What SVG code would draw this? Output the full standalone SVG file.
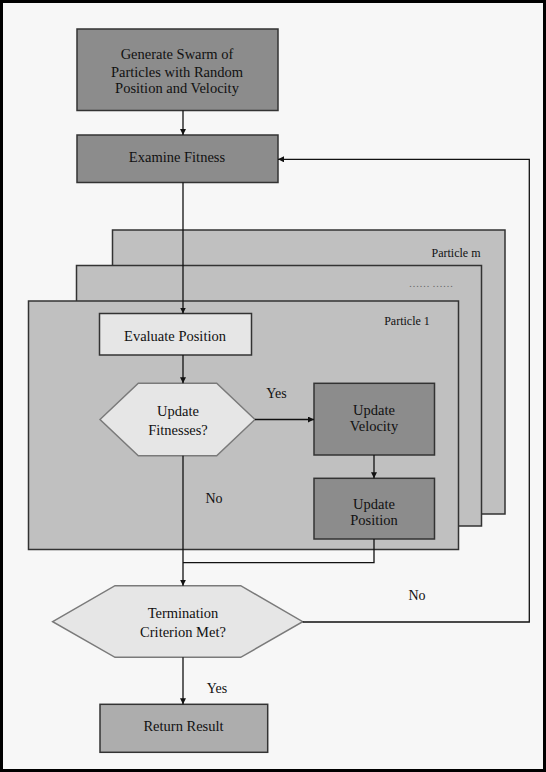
<svg xmlns="http://www.w3.org/2000/svg" width="546" height="772" viewBox="0 0 546 772" font-family="'Liberation Serif', 'Times New Roman', Times, 'DejaVu Serif', serif">
<style>
text{font-family:'Liberation Serif','Times New Roman',Times,'DejaVu Serif',serif;fill:#111;text-anchor:middle}
.t{font-size:14.5px}
.s{font-size:12px}
.lbl{font-size:14px}
.dark{fill:#8c8c8c;stroke:#333;stroke-width:1.5}
.panel{fill:#c0c0c0;stroke:#333;stroke-width:1.5}
.light{fill:#e6e6e6;stroke:#333;stroke-width:1.5}
.hex{fill:#e6e6e6;stroke:#7a7a7a;stroke-width:1.5}
.res{fill:#adadad;stroke:#333;stroke-width:1.5}
.c{fill:none;stroke:#111;stroke-width:1.3}
</style>
<defs>
<marker id="ah" viewBox="0 0 10 10" refX="10" refY="5" markerWidth="6" markerHeight="6" markerUnits="userSpaceOnUse" orient="auto">
<path d="M0,0 L10,5 L0,10 z" fill="#111"/>
</marker>
</defs>
<rect x="0" y="0" width="546" height="772" fill="#f7f7f7"/>
<rect x="1.5" y="1.5" width="543" height="769" fill="none" stroke="#000" stroke-width="3"/>

<g id="particle-m">
<rect class="panel" x="112.5" y="230" width="392.5" height="284"/>
<text class="s" x="456" y="257">Particle m</text>
</g>
<g id="particle-dots">
<rect class="panel" x="76.5" y="265.5" width="405" height="260.5"/>
<text x="431" y="287" style="font-size:10.5px;fill:#666">…… ……</text>
</g>
<g id="particle-1">
<rect class="panel" x="28.5" y="301" width="430" height="248.5"/>
<text class="s" x="407" y="325">Particle 1</text>
</g>

<g id="generate">
<rect class="dark" x="77" y="29" width="201" height="81.5"/>
<text class="t" x="177" y="59">Generate Swarm of</text>
<text class="t" x="177" y="76.5">Particles with Random</text>
<text class="t" x="177" y="92.5">Position and Velocity</text>
</g>
<g id="examine">
<rect class="dark" x="77" y="135" width="201" height="47.5"/>
<text class="t" x="177" y="162">Examine Fitness</text>
</g>
<g id="evaluate">
<rect class="light" x="99.5" y="313.5" width="152" height="41.5"/>
<text class="t" x="175" y="341">Evaluate Position</text>
</g>
<g id="update-fitnesses">
<polygon class="hex" points="100,419.5 138.3,383.3 216.7,383.3 255,419.5 216.7,455.7 138.3,455.7"/>
<text class="t" x="178" y="416">Update</text>
<text class="t" x="178" y="434.5">Fitnesses?</text>
</g>
<g id="update-velocity">
<rect class="dark" x="314" y="383.3" width="120.5" height="71.7"/>
<text class="t" x="374" y="414.5">Update</text>
<text class="t" x="374" y="431">Velocity</text>
</g>
<g id="update-position">
<rect class="dark" x="314" y="478.3" width="120.5" height="60.7"/>
<text class="t" x="374" y="508.5">Update</text>
<text class="t" x="374" y="524.5">Position</text>
</g>
<g id="termination">
<polygon class="hex" points="52.7,621.7 115,585.7 240.7,585.7 302.7,621.7 240.7,657.3 115,657.3"/>
<text class="t" x="183" y="618">Termination</text>
<text class="t" x="183" y="637">Criterion Met?</text>
</g>
<g id="return-result">
<rect class="res" x="100" y="704.3" width="167.7" height="48"/>
<text class="t" x="183.5" y="731">Return Result</text>
</g>

<g id="connectors">
<path class="c" d="M183,110.5 V135" marker-end="url(#ah)"/>
<path class="c" d="M183,182.5 V313.5" marker-end="url(#ah)"/>
<path class="c" d="M183,355 V383.3" marker-end="url(#ah)"/>
<path class="c" d="M255,419.5 H314" marker-end="url(#ah)"/>
<path class="c" d="M374,455 V478.3" marker-end="url(#ah)"/>
<path class="c" d="M183,455.7 V585.7" marker-end="url(#ah)"/>
<path class="c" d="M374,539 V562.7 H183"/>
<path class="c" d="M183,657.3 V704.3" marker-end="url(#ah)"/>
<path class="c" d="M302.7,622 H529.3 V159.3 H278" marker-end="url(#ah)"/>
<text class="lbl" x="276.5" y="398">Yes</text>
<text class="lbl" x="214" y="503">No</text>
<text class="lbl" x="417" y="599.5">No</text>
<text class="lbl" x="217" y="693">Yes</text>
</g>
</svg>
